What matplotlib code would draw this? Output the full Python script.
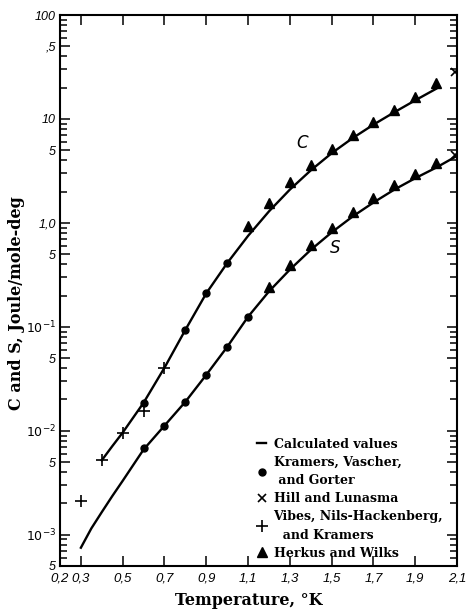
import numpy as np
import matplotlib
matplotlib.use("Agg")
import matplotlib.pyplot as plt
from matplotlib.ticker import FixedLocator, FixedFormatter, LogLocator, NullFormatter

plt.rcParams['mathtext.default'] = 'it'

# calculated curves
t_c = [0.4, 0.45, 0.5, 0.6, 0.7, 0.8, 0.9, 1.0, 1.1, 1.2, 1.3, 1.4, 1.5, 1.6, 1.7, 1.8,
       1.9, 2.0]
c_calc = [5.2e-3, 7.1e-3, 9.6e-3, 0.0186, 0.0404, 0.0935, 0.21, 0.41, 0.75, 1.29, 2.09,
          3.2, 4.68, 6.53, 8.81, 11.6, 15.1, 19.5]
t_s = [0.3, 0.35, 0.4, 0.45, 0.5, 0.6, 0.7, 0.8, 0.9, 1.0, 1.1, 1.2, 1.3, 1.4, 1.5, 1.6,
       1.7, 1.8, 1.9, 2.0, 2.09]
s_calc = [7.5e-4, 1.15e-3, 1.65e-3, 2.35e-3, 3.3e-3, 6.6e-3, 0.0112, 0.019, 0.0345, 0.064,
          0.125, 0.219, 0.355, 0.55, 0.81, 1.15, 1.57, 2.09, 2.69, 3.4, 4.3]

# Kramers, Vascher and Gorter
t_kvg_c = [0.6, 0.8, 0.9, 1.0]
c_kvg = [0.0186, 0.0935, 0.212, 0.412]
t_kvg_s = [0.6, 0.7, 0.8, 0.9, 1.0, 1.1]
s_kvg = [6.9e-3, 0.0112, 0.019, 0.0345, 0.0643, 0.125]

# Hill and Lunasma
t_hl = [2.09, 2.09]
v_hl = [28.3, 4.5]

# Vibes, Nils-Hackenberg and Kramers
t_vnk = [0.3, 0.4, 0.5, 0.6, 0.7]
c_vnk = [2.12e-3, 5.2e-3, 9.6e-3, 0.0156, 0.0404]

# Herkus and Wilks
t_hw = [1.1, 1.2, 1.3, 1.4, 1.5, 1.6, 1.7, 1.8, 1.9, 2.0]
c_hw = [0.935, 1.55, 2.45, 3.6, 5.1, 6.95, 9.25, 12.3, 16.4, 22.3]
t_hw_s = [1.2, 1.3, 1.4, 1.5, 1.6, 1.7, 1.8, 1.9, 2.0]
s_hw = [0.243, 0.394, 0.61, 0.90, 1.27, 1.74, 2.34, 2.98, 3.8]

x_ticks = [0.2, 0.3, 0.5, 0.7, 0.9, 1.1, 1.3, 1.5, 1.7, 1.9, 2.1]
x_labels = ['0,2', '0,3', '0,5', '0,7', '0,9', '1,1', '1,3', '1,5', '1,7', '1,9', '2,1']
y_ticks = [100, 50, 10, 5, 1, 0.5, 0.1, 0.05, 0.01, 0.005, 0.001, 0.0005]
y_labels = ['100', ',5', '10', '5', '1,0', '5', '$10^{-1}$', '5', '$10^{-2}$', '5',
            '$10^{-3}$', '5']

fig = plt.figure(figsize=(4.68, 6.11), dpi=100)
ax = fig.add_axes([60/468, 1-566/611, 397/468, 551/611])
ax.set_yscale('log')

ax.plot(t_c, c_calc, color='black', lw=1.7, label='Calculated values')
ax.plot(t_s, s_calc, color='black', lw=1.7)
ax.plot(t_kvg_c + t_kvg_s, c_kvg + s_kvg, 'o', color='black', ms=5,
        label='Kramers, Vascher,\n and Gorter')
ax.plot(t_hl, v_hl, 'x', color='black', ms=6, mew=1.2, label='Hill and Lunasma')
ax.plot(t_vnk, c_vnk, '+', color='black', ms=9, mew=1.2,
        label='Vibes, Nils-Hackenberg,\n  and Kramers')
ax.plot(t_hw + t_hw_s, c_hw + s_hw, '^', color='black', ms=7, label='Herkus and Wilks')

ax.text(1.358, 5.9, 'C', fontsize=12, style='italic', ha='center', va='center',
        family='DejaVu Sans', fontweight='light')
ax.text(1.516, 0.575, 'S', fontsize=12, style='italic', ha='center', va='center',
        family='DejaVu Sans', fontweight='light')

ax.set_xlim(0.2, 2.1)
ax.set_ylim(5e-4, 100)
ax.xaxis.set_major_locator(FixedLocator(x_ticks))
ax.xaxis.set_major_formatter(FixedFormatter(x_labels))
ax.yaxis.set_major_locator(FixedLocator(y_ticks))
ax.yaxis.set_major_formatter(FixedFormatter(y_labels))
ax.yaxis.set_minor_locator(LogLocator(base=10, subs=(2, 3, 4, 6, 7, 8, 9), numticks=20))
ax.yaxis.set_minor_formatter(NullFormatter())
ax.tick_params(which='both', direction='in', top=True, right=True, width=1.1)
ax.tick_params(which='major', length=7, pad=3)
ax.tick_params(which='minor', length=5)
ax.tick_params(axis='x', pad=5)
for tk in ax.xaxis.get_major_ticks():
    tk.label1.set_fontstyle('italic')
    tk.label1.set_fontsize(9.5)
    tk.label1.set_family('Liberation Sans')
for tk in ax.yaxis.get_major_ticks():
    tk.label1.set_fontstyle('italic')
    tk.label1.set_fontsize(9)
    tk.label1.set_family('Liberation Sans')
for sp in ax.spines.values():
    sp.set_linewidth(1.5)

ax.set_xlabel('Temperature, °K', fontsize=11.5, fontweight='bold', family='DejaVu Serif')
ax.xaxis.set_label_coords(0.476, -0.047)
ax.set_ylabel('C and S, Joule/mole-deg', fontsize=11.5, fontweight='bold',
              family='DejaVu Serif')
ax.yaxis.set_label_coords(-0.088, 0.477)

leg = ax.legend(loc='upper left', bbox_to_anchor=(0.497, 0.233), frameon=False,
                prop={'family': 'DejaVu Serif', 'weight': 'bold', 'size': 9},
                handlelength=0.7, handletextpad=0.6, labelspacing=0.4, borderpad=0,
                borderaxespad=0)
for txt in leg.get_texts():
    txt.set_linespacing(1.55)

fig.savefig('out.png', dpi=100)
